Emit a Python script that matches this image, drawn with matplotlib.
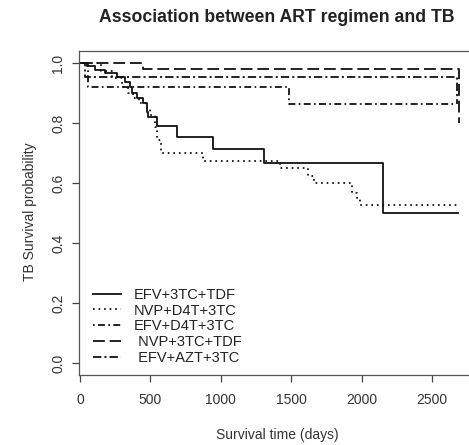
import matplotlib
matplotlib.use("Agg")
import matplotlib.pyplot as plt

plt.rcParams['font.family'] = ['Liberation Sans', 'DejaVu Sans']
plt.rcParams['lines.scale_dashes'] = False

# Kaplan-Meier curves (days, survival)
efv_3tc_tdf_t = [0, 47, 107, 177, 260, 320, 355, 367, 403, 450, 473, 485, 545, 687, 942, 1307, 2152, 2685]
efv_3tc_tdf_s = [1.0, 0.99, 0.977, 0.966, 0.954, 0.938, 0.921, 0.899, 0.882, 0.866, 0.838, 0.821, 0.79, 0.755, 0.715, 0.667, 0.50, 0.50]

nvp_d4t_3tc_t = [0, 150, 230, 296, 340, 380, 420, 470, 500, 530, 548, 575, 876, 1420, 1622, 1660, 1930, 1965, 1990, 2690]
nvp_d4t_3tc_s = [1.0, 0.975, 0.95, 0.921, 0.90, 0.882, 0.866, 0.849, 0.827, 0.788, 0.743, 0.699, 0.674, 0.649, 0.624, 0.599, 0.566, 0.549, 0.527, 0.527]

efv_d4t_3tc_t = [0, 57, 1487, 2665]
efv_d4t_3tc_s = [1.0, 0.921, 0.863, 0.863]

nvp_3tc_tdf_t = [0, 450, 2690]
nvp_3tc_tdf_s = [1.0, 0.979, 0.80]

efv_azt_3tc_t = [0, 38, 2675]
efv_azt_3tc_s = [1.0, 0.954, 0.863]

labels = ['EFV+3TC+TDF', 'NVP+D4T+3TC', 'EFV+D4T+3TC', ' NVP+3TC+TDF', ' EFV+AZT+3TC']
xticks = [0, 500, 1000, 1500, 2000, 2500]
yticks = [0.0, 0.2, 0.4, 0.6, 0.8, 1.0]

fig = plt.figure(figsize=(4.69, 4.45), dpi=100)
ax = fig.add_axes([79/469, 70/445, (475-79)/469, 324/445])

curves = [
    (efv_3tc_tdf_t, efv_3tc_tdf_s, '-'),
    (nvp_d4t_3tc_t, nvp_d4t_3tc_s, (0, (1.2, 2.8))),
    (efv_d4t_3tc_t, efv_d4t_3tc_s, (0, (1.2, 2.4, 5, 2.4))),
    (nvp_3tc_tdf_t, nvp_3tc_tdf_s, (0, (8.5, 3.5))),
    (efv_azt_3tc_t, efv_azt_3tc_s, (0, (6, 2.2, 1.5, 2.2))),
]
for (t, s, ls), lab in zip(curves, labels):
    ax.step(t, s, where='post', color='#111111', linestyle=ls, linewidth=1.3, label=lab)

ax.set_xlim(-7, 2805)
ax.set_ylim(-0.04, 1.04)
ax.set_xticks(xticks)
ax.set_yticks(yticks)
ax.set_xticklabels([str(x) for x in xticks])
ax.set_yticklabels(['%.1f' % y for y in yticks], rotation=90, va='center')
ax.tick_params(axis='both', direction='out', length=5, width=0.9, colors='#444444',
               labelcolor='#333333', labelsize=10)
ax.tick_params(axis='x', pad=8)
ax.tick_params(axis='y', pad=5)
for sp in ax.spines.values():
    sp.set_color('#555555')
    sp.set_linewidth(0.9)

fig.text(277/469, 1 - 17/445, 'Association between ART regimen and TB', ha='center', va='center',
         fontsize=12.7, fontweight='bold', color='#222222')
fig.text(277/469, 1 - 435/445, 'Survival time (days)', ha='center', va='center',
         fontsize=10, color='#333333')
fig.text(30/469, 1 - 212/445, 'TB Survival probability', ha='center', va='center',
         rotation=90, fontsize=10, color='#333333')

ax.legend(loc='lower left', bbox_to_anchor=(0.01, 0.0), frameon=False, fontsize=10.5,
          handlelength=1.9, handletextpad=0.9, labelspacing=0.12, borderpad=0.2,
          labelcolor='#222222')

fig.savefig('out.png', dpi=100)
